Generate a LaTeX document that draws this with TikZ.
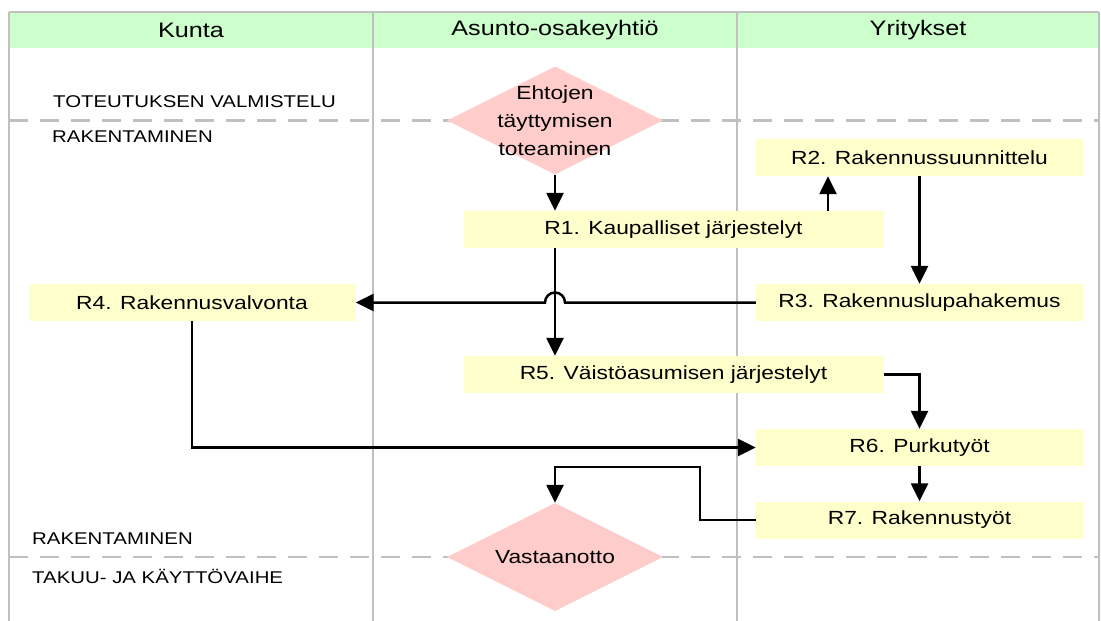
\documentclass[tikz,border=0pt]{standalone}
\usepackage{fontspec}
\setmainfont{Liberation Sans}[FakeStretch=1.2]
\usetikzlibrary{shapes.geometric,positioning,arrows.meta,calc}
\definecolor{lanegrey}{HTML}{C0C0C0}
\definecolor{headgreen}{HTML}{CCFFCC}
\definecolor{taskyellow}{HTML}{FFFFCC}
\definecolor{decisionpink}{HTML}{FFCCCC}

\begin{document}
\begin{tikzpicture}[x=1pt,y=-1pt,node distance=145pt,on grid,
   >={Triangle[length=18pt,width=17pt]},
   task/.style={fill=taskyellow,minimum width=327pt,minimum height=37pt,inner sep=0pt,font=\fontsize{19}{28}\selectfont},
   decision/.style={diamond,aspect=2,fill=decisionpink,minimum width=216pt,minimum height=108pt,inner sep=0pt,font=\fontsize{19}{28}\selectfont},
   lane/.style={draw=lanegrey,line width=2.8pt},
   phaseline/.style={lane,line width=2.2pt,dash pattern=on 19pt off 12pt},
   lanehead/.style={font=\fontsize{21}{24}\selectfont},
   phase/.style={anchor=west,inner sep=0pt,font=\fontsize{17}{20}\selectfont},
   flow/.style={line width=2.5pt}]
   \useasboundingbox (0,0) rectangle (1101,621);
   \fill[headgreen] (9,12) rectangle (1099,48);
   \draw[lane] (9,12) -- (1099,12);
   \foreach \x in {9,373,737,1099} \draw[lane] (\x,12) -- (\x,621);
   \foreach \y in {120.5,557} \draw[phaseline] (9,\y) -- (1099,\y);

   \node[lanehead] (kunta) at (191,30) {Kunta};
   \node[lanehead] (yhtio) at (555,30) {Asunto-osakeyhtiö};
   \node[lanehead] (yritykset) at (918,30) {Yritykset};

   \node[phase] (valmistelu) at (53,102) {TOTEUTUKSEN VALMISTELU};
   \node[phase] (rak_1) at (52,137) {RAKENTAMINEN};
   \node[phase] (rak_2) at (32,539) {RAKENTAMINEN};
   \node[phase] (takuu) at (32,576) {TAKUU- JA KÄYTTÖVAIHE};

   \node[decision] (d_1) at (555,120.5) {};
   \node[align=center,font=\fontsize{19}{28}\selectfont] (d_1 text) at (d_1) {Ehtojen\\täyttymisen\\toteaminen};
   \node[task,minimum width=420pt] (r_1) at (673.5,229.5) {R1. Kaupalliset järjestelyt};
   \node[task] (r_2) at (919.5,157.5) {R2. Rakennussuunnittelu};
   \node[task] (r_3) [below=of r_2] {R3. Rakennuslupahakemus};
   \node[task] (r_4) [left=727.5pt of r_3] {R4. Rakennusvalvonta};
   \node[task,minimum width=420pt] (r_5) [below=of r_1] {R5. Väistöasumisen järjestelyt};
   \node[task] (r_6) [below=of r_3] {R6. Purkutyöt};
   \node[task] (r_7) [below=72.5pt of r_6] {R7. Rakennustyöt};
   \node[decision] (d_2) at (555,557) {Vastaanotto};

   \coordinate (r_12) at (828,200);
   \coordinate (hop) at (d_1.south |- r_3.west);
   \coordinate (bend) at (700,467);
    \path[->,flow]
    (d_1.south) edge (d_1.south |- r_1.north)
    (r_1.north -| r_12) edge (r_12 |- r_2.south)
    (r_2.south) edge (r_3.north)
    (d_1.south |- r_1.south) edge (d_1.south |- r_5.north)
    (r_6.south) edge (r_7.north);
    \draw[->,flow] (r_3.west) -- ([xshift=10pt]hop) arc[start angle=0,end angle=-180,radius=10] -- (r_4.east);
    \draw[->,flow] (r_5.east) -| (r_6.north);
    \draw[->,flow] (r_4.south) |- (r_6.west);
    \draw[->,flow] (r_7.west) -| (bend) -| (d_2.north);
\end{tikzpicture}
\end{document}
